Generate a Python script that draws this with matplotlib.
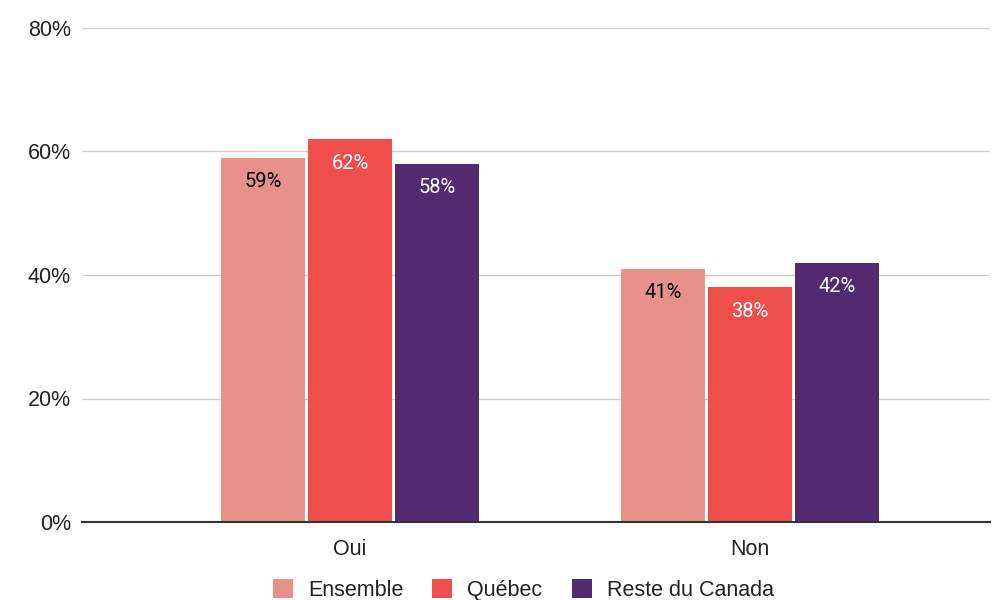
import matplotlib
matplotlib.use("Agg")
import matplotlib.pyplot as plt
from matplotlib.ticker import FuncFormatter
import numpy as np

categories = ["Oui", "Non"]
series_names = ["Ensemble", "Québec", "Reste du Canada"]
ensemble = [59, 41]
quebec = [62, 38]
reste = [58, 42]
colors = ["#E8908A", "#EE4F4D", "#532A70"]
label_colors = ["#000000", "#FFFFFF", "#FFFFFF"]

fig = plt.figure(figsize=(9.93, 6.0), dpi=100)
ax = fig.add_axes([82/993, 78/600, (990-82)/993, (522-28)/600])

x = np.arange(len(categories))
offsets = [-0.2175, 0.0, 0.2175]
width = 0.21
for vals, name, col, lc, off in zip([ensemble, quebec, reste], series_names, colors, label_colors, offsets):
    bars = ax.bar(x + off, vals, width=width, color=col, label=name, zorder=3)
    for b, v in zip(bars, vals):
        ax.annotate(f"{v}%", (b.get_x() + b.get_width()/2, v), xytext=(0, -24),
                    textcoords="offset pixels",
                    ha="center", va="center", color=lc, fontsize=14.5,
                    family=["Roboto", "DejaVu Sans"], zorder=4)

ax.set_xlim(-0.67, 1.6)
ax.set_ylim(0, 80)
ax.set_yticks([0, 20, 40, 60, 80])
ax.yaxis.set_major_formatter(FuncFormatter(lambda v, p: f"{int(v)}%"))
ax.set_xticks(x)
ax.set_xticklabels(categories)
ax.grid(axis="y", color="#CCCCCC", linewidth=1, zorder=0)
for s in ["left", "right", "top"]:
    ax.spines[s].set_visible(False)
ax.spines["bottom"].set_color("#333333")
ax.spines["bottom"].set_linewidth(1.5)
ax.spines["bottom"].set_zorder(5)
ax.tick_params(axis="both", length=0, labelsize=15.5, colors="#222222")
ax.tick_params(axis="y", pad=8)
ax.tick_params(axis="x", pad=12)
for t in ax.get_xticklabels() + ax.get_yticklabels():
    t.set_family(["Liberation Sans", "DejaVu Sans"])

leg = fig.legend(loc="center", bbox_to_anchor=(0.527, 10/600), ncol=3,
                 frameon=False, handlelength=0.93, handleheight=0.93, handletextpad=0.7,
                 columnspacing=1.35, prop={"family": ["Liberation Sans", "DejaVu Sans"], "size": 15.5})
for t in leg.get_texts():
    t.set_color("#222222")

fig.savefig("out.png", dpi=100)
